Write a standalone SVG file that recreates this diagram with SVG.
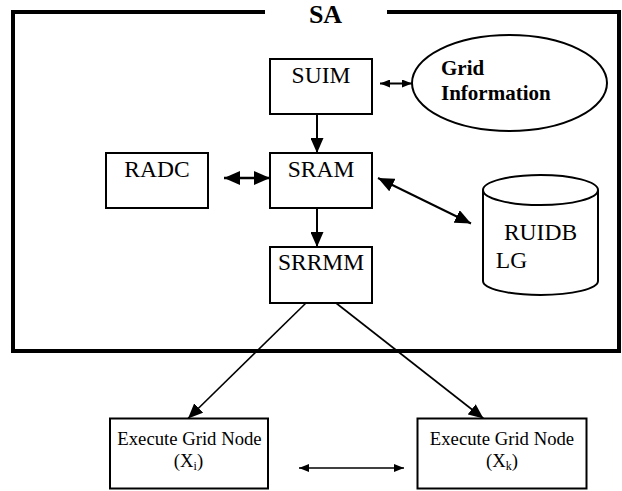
<svg xmlns="http://www.w3.org/2000/svg" width="622" height="491" viewBox="0 0 622 491" font-family="'Liberation Serif', 'Times New Roman', Times, serif">
<style>
  .box{fill:#fff;stroke:#000;stroke-width:2}
  .lbl{font-size:23.5px;fill:#000;text-anchor:middle}
  .small{font-size:18.7px;fill:#000;text-anchor:middle}
  .bold{font-weight:bold;fill:#000}
  .conn{fill:none;stroke:#000}
</style>
<defs>
  <marker id="ahBig" markerUnits="userSpaceOnUse" markerWidth="16" markerHeight="14" refX="16" refY="7" orient="auto-start-reverse">
    <path d="M0,0 L16,7 L0,14 z" fill="#000"/>
  </marker>
  <marker id="ahMid" markerUnits="userSpaceOnUse" markerWidth="15" markerHeight="13" refX="15" refY="6.5" orient="auto-start-reverse">
    <path d="M0,0 L15,6.5 L0,13 z" fill="#000"/>
  </marker>
  <marker id="ahSmall" markerUnits="userSpaceOnUse" markerWidth="10" markerHeight="8" refX="10" refY="4" orient="auto-start-reverse">
    <path d="M0,0 L10,4 L0,8 z" fill="#000"/>
  </marker>
</defs>

<g id="frame">
  <path d="M265,12 H13 V351 H619 V12 H387" fill="none" stroke="#000" stroke-width="4"/>
  <text class="bold" x="325.5" y="23" font-size="26" text-anchor="middle">SA</text>
</g>

<g id="connectors">
  <line class="conn" x1="380" y1="83.5" x2="412" y2="83.5" stroke-width="2" marker-start="url(#ahSmall)" marker-end="url(#ahSmall)"/>
  <line class="conn" x1="317" y1="114" x2="317" y2="153" stroke-width="2" marker-end="url(#ahMid)"/>
  <line class="conn" x1="224" y1="178" x2="270" y2="178" stroke-width="2.5" marker-start="url(#ahBig)" marker-end="url(#ahBig)"/>
  <line class="conn" x1="378" y1="178" x2="471" y2="223.5" stroke-width="2" marker-start="url(#ahBig)" marker-end="url(#ahBig)"/>
  <line class="conn" x1="317" y1="200" x2="317" y2="247" stroke-width="2" marker-end="url(#ahMid)"/>
  <line class="conn" x1="306" y1="303" x2="188" y2="418.5" stroke-width="1.6" marker-end="url(#ahMid)"/>
  <line class="conn" x1="336" y1="303" x2="483.5" y2="418.5" stroke-width="1.6" marker-end="url(#ahMid)"/>
  <line class="conn" x1="299" y1="468" x2="404" y2="468" stroke-width="1.6" marker-start="url(#ahSmall)" marker-end="url(#ahSmall)"/>
</g>

<g id="SUIM">
  <rect class="box" x="270" y="59" width="102" height="55"/>
  <text class="lbl" x="321" y="83">SUIM</text>
</g>

<g id="GridInformation">
  <ellipse cx="509.5" cy="83" rx="97.5" ry="48" fill="#fff" stroke="#000" stroke-width="2"/>
  <text class="bold" x="441" y="75" font-size="21">Grid</text>
  <text class="bold" x="441" y="99.5" font-size="21">Information</text>
</g>

<g id="RADC">
  <rect class="box" x="106" y="153" width="102" height="55"/>
  <text class="lbl" x="157" y="177">RADC</text>
</g>

<g id="SRAM">
  <rect class="box" x="270" y="153" width="102" height="55"/>
  <text class="lbl" x="321" y="177">SRAM</text>
</g>

<g id="SRRMM">
  <rect class="box" x="270" y="247" width="102" height="56"/>
  <text class="lbl" x="321" y="270">SRRMM</text>
</g>

<g id="RUIDBLG">
  <path d="M483,190 V281 A57.5,14 0 0 0 598,281 V190" fill="#fff" stroke="#000" stroke-width="2"/>
  <ellipse cx="540.5" cy="190" rx="57.5" ry="15" fill="#fff" stroke="#000" stroke-width="2"/>
  <text class="lbl" x="540.5" y="240">RUIDB</text>
  <text class="lbl" x="511.5" y="267.5" text-anchor="start">LG</text>
</g>

<g id="ExecXi">
  <rect class="box" x="110" y="418.5" width="158" height="70"/>
  <text class="small" x="189.5" y="445">Execute Grid Node</text>
  <text class="small" x="188.5" y="466.5">(X<tspan font-size="12" dy="3">i</tspan><tspan dy="-3">)</tspan></text>
</g>

<g id="ExecXk">
  <rect class="box" x="417.5" y="418.5" width="169" height="70"/>
  <text class="small" x="502" y="445">Execute Grid Node</text>
  <text class="small" x="502" y="466.5">(X<tspan font-size="12" dy="3">k</tspan><tspan dy="-3">)</tspan></text>
</g>
</svg>
